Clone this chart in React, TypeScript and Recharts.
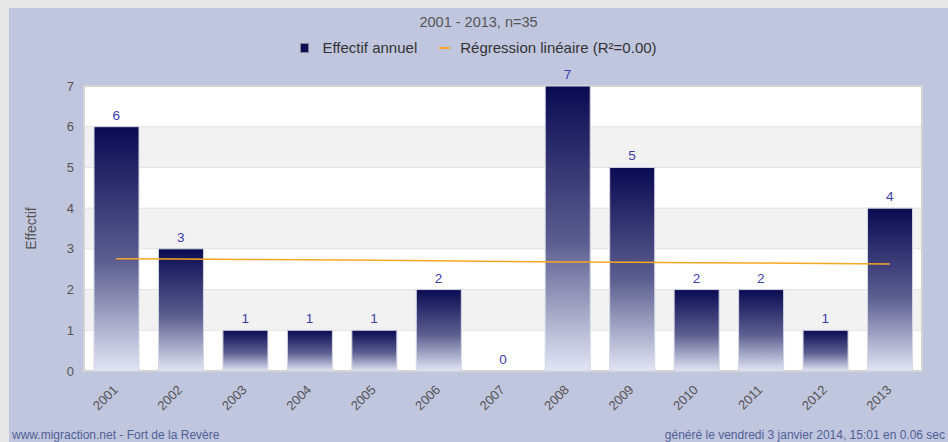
import {
  Bar,
  CartesianGrid,
  ComposedChart,
  LabelList,
  Line,
  ReferenceArea,
  XAxis,
  YAxis,
} from "recharts";

const years = ["2001", "2002", "2003", "2004", "2005", "2006", "2007", "2008", "2009", "2010", "2011", "2012", "2013"];
const effectif = [6, 3, 1, 1, 1, 2, 0, 7, 5, 2, 2, 1, 4];
const regression = [2.76, 2.75, 2.74, 2.73, 2.72, 2.71, 2.69, 2.68, 2.67, 2.66, 2.65, 2.64, 2.63];
const yTicks = [0, 1, 2, 3, 4, 5, 6, 7];

const chartData = years.map((year, i) => ({
  year,
  effectif: effectif[i],
  reg: regression[i],
}));

const font = "'Liberation Sans', Arial, sans-serif";
const orange = "#f7a823";

const App = () => {
  return (
    <div
      style={{
        position: "absolute",
        left: 0,
        top: 0,
        width: 948,
        height: 442,
        background: "#e7e7e7",
        fontFamily: font,
        overflow: "hidden",
      }}
    >
      <div
        style={{
          position: "absolute",
          left: 9,
          top: 8,
          width: 939,
          height: 434,
          background: "#c1c6df",
        }}
      >
        <div
          style={{
            position: "absolute",
            top: 6,
            width: "100%",
            textAlign: "center",
            fontSize: 14.5,
            color: "#555",
          }}
        >
          2001 - 2013, n=35
        </div>
        <div
          style={{
            position: "absolute",
            top: 31,
            width: "100%",
            display: "flex",
            justifyContent: "center",
            alignItems: "center",
            fontSize: 15,
            color: "#333",
          }}
        >
          <span
            style={{
              display: "inline-block",
              width: 7,
              height: 8,
              background: "#0a0a55",
              border: "1px solid #888",
              marginRight: 13,
            }}
          />
          <span>Effectif annuel</span>
          <span
            style={{
              display: "inline-block",
              width: 11,
              height: 2,
              background: orange,
              marginLeft: 22,
              marginRight: 10,
            }}
          />
          <span>Régression linéaire (R²=0.00)</span>
        </div>

        <ComposedChart
          width={939}
          height={434}
          data={chartData}
          margin={{ top: 78, right: 26, bottom: 21, left: 0 }}
          style={{ fontFamily: font }}
        >
          <defs>
            <linearGradient id="barGrad" x1="0" y1="0" x2="0" y2="1">
              <stop offset="0%" stopColor="#0a0a52" />
              <stop offset="55%" stopColor="#5c5e90" />
              <stop offset="100%" stopColor="#e2e5f4" />
            </linearGradient>
          </defs>
          <CartesianGrid
            vertical={false}
            stroke="#e2e2e2"
            horizontalFill={["#ffffff", "#f2f2f2"]}
            fillOpacity={1}
          />
          <ReferenceArea y1={0} y2={7} fill="none" stroke="#d4d4d4" strokeWidth={2} />
          <XAxis
            dataKey="year"
            height={50}
            axisLine={false}
            tickLine={false}
            interval={0}
            tick={{ fill: "#555", fontSize: 13, angle: -45, textAnchor: "end", dx: -4, dy: 5 }}
          />
          <YAxis
            width={75}
            domain={[0, 7]}
            ticks={yTicks}
            axisLine={false}
            tickLine={false}
            tick={{ fill: "#555", fontSize: 13 }}
            tickMargin={4}
            label={{
              value: "Effectif",
              angle: -90,
              position: "insideLeft",
              offset: 22,
              style: { fill: "#555", fontSize: 14, textAnchor: "middle" },
            }}
          />
          <Bar
            dataKey="effectif"
            barSize={45}
            fill="url(#barGrad)"
            stroke="#d3d6e4"
            strokeWidth={1}
            isAnimationActive={false}
          />
          {/* invisible series, only carries the value labels (bar labels skip the 0) */}
          <Line
            dataKey="effectif"
            stroke="none"
            dot={false}
            activeDot={false}
            legendType="none"
            isAnimationActive={false}
          >
            <LabelList
              dataKey="effectif"
              position="top"
              offset={7}
              style={{ fill: "#3c3cab", fontSize: 13.5 }}
            />
          </Line>
          <Line
            dataKey="reg"
            type="linear"
            stroke={orange}
            strokeWidth={1.5}
            dot={false}
            activeDot={false}
            isAnimationActive={false}
          />
        </ComposedChart>

        <div
          style={{
            position: "absolute",
            left: 3,
            bottom: 0,
            fontSize: 12,
            lineHeight: "13px",
            color: "#4f5f95",
          }}
        >
          www.migraction.net - Fort de la Revère
        </div>
        <div
          style={{
            position: "absolute",
            right: 3,
            bottom: 0,
            fontSize: 12,
            lineHeight: "13px",
            color: "#4f5f95",
          }}
        >
          généré le vendredi 3 janvier 2014, 15:01 en 0.06 sec
        </div>
      </div>
    </div>
  );
};

export default App;
